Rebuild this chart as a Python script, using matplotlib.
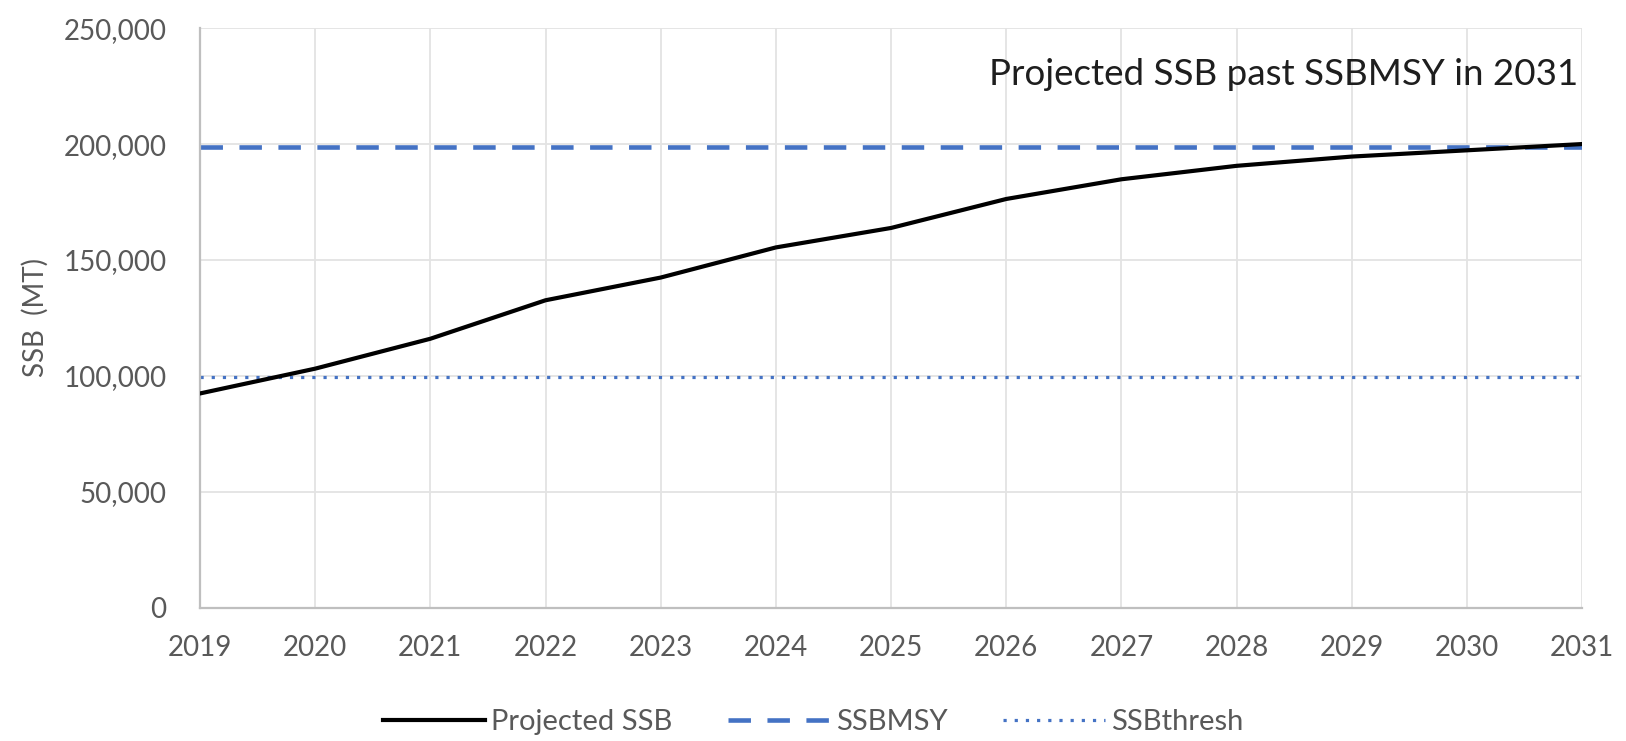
import numpy as np
import matplotlib
matplotlib.use("Agg")
import matplotlib.pyplot as plt
from matplotlib.ticker import FuncFormatter, MultipleLocator

years = [2019, 2020, 2021, 2022, 2023, 2024, 2025, 2026, 2027, 2028, 2029, 2030, 2031]
projected_ssb = [92400, 103100, 116000, 132600, 142400, 155400, 163800,
                 176300, 184800, 190600, 194600, 197300, 200000]
ssb_msy = 198700
ssb_thresh = 99500

plt.rcParams['font.family'] = ['Lato', 'DejaVu Sans']
grey = '#595959'

fig = plt.figure(figsize=(16.26, 7.41), dpi=100)
ax = fig.add_axes([0.123, 0.18, 0.85, 0.782])

ax.plot(years, projected_ssb, color='black', lw=3.0, label='Projected SSB', zorder=3)
ax.plot(years, [ssb_msy] * len(years), color='#4472c4', lw=3.3, dashes=(4.9, 3.6),
        label='SSBMSY', zorder=2)
ax.plot(years, [ssb_thresh] * len(years), color='#4472c4', lw=2.3, dashes=(1.0, 2.5),
        label='SSBthresh', zorder=2)

ax.set_xlim(2019, 2031)
ax.set_ylim(0, 250000)
ax.set_xticks(years)
ax.yaxis.set_major_locator(MultipleLocator(50000))
ax.yaxis.set_major_formatter(FuncFormatter(lambda y, _: '{:,.0f}'.format(y)))

ax.grid(True, color='#e3e3e3', lw=1.3)
ax.set_axisbelow(True)
for s in ['top', 'right']:
    ax.spines[s].set_visible(False)
for s in ['left', 'bottom']:
    ax.spines[s].set_color('#bfbfbf')
    ax.spines[s].set_linewidth(1.6)

ax.tick_params(axis='both', length=0, labelsize=20, colors=grey)
ax.tick_params(axis='x', pad=20)
ax.tick_params(axis='y', pad=24)
ax.set_ylabel('SSB  (MT)', fontsize=20, color=grey, labelpad=11)

ax.text(0.997, 0.92, 'Projected SSB past SSBMSY in 2031', transform=ax.transAxes,
        ha='right', va='center', fontsize=26.5, color='#1e1e1e')

fig.legend(loc='center', bbox_to_anchor=(0.5, 0.026), ncol=3, frameon=False,
           fontsize=21, handlelength=3.5, handletextpad=0.2, columnspacing=1.9,
           labelcolor=grey)

fig.savefig('out.png', dpi=100)
